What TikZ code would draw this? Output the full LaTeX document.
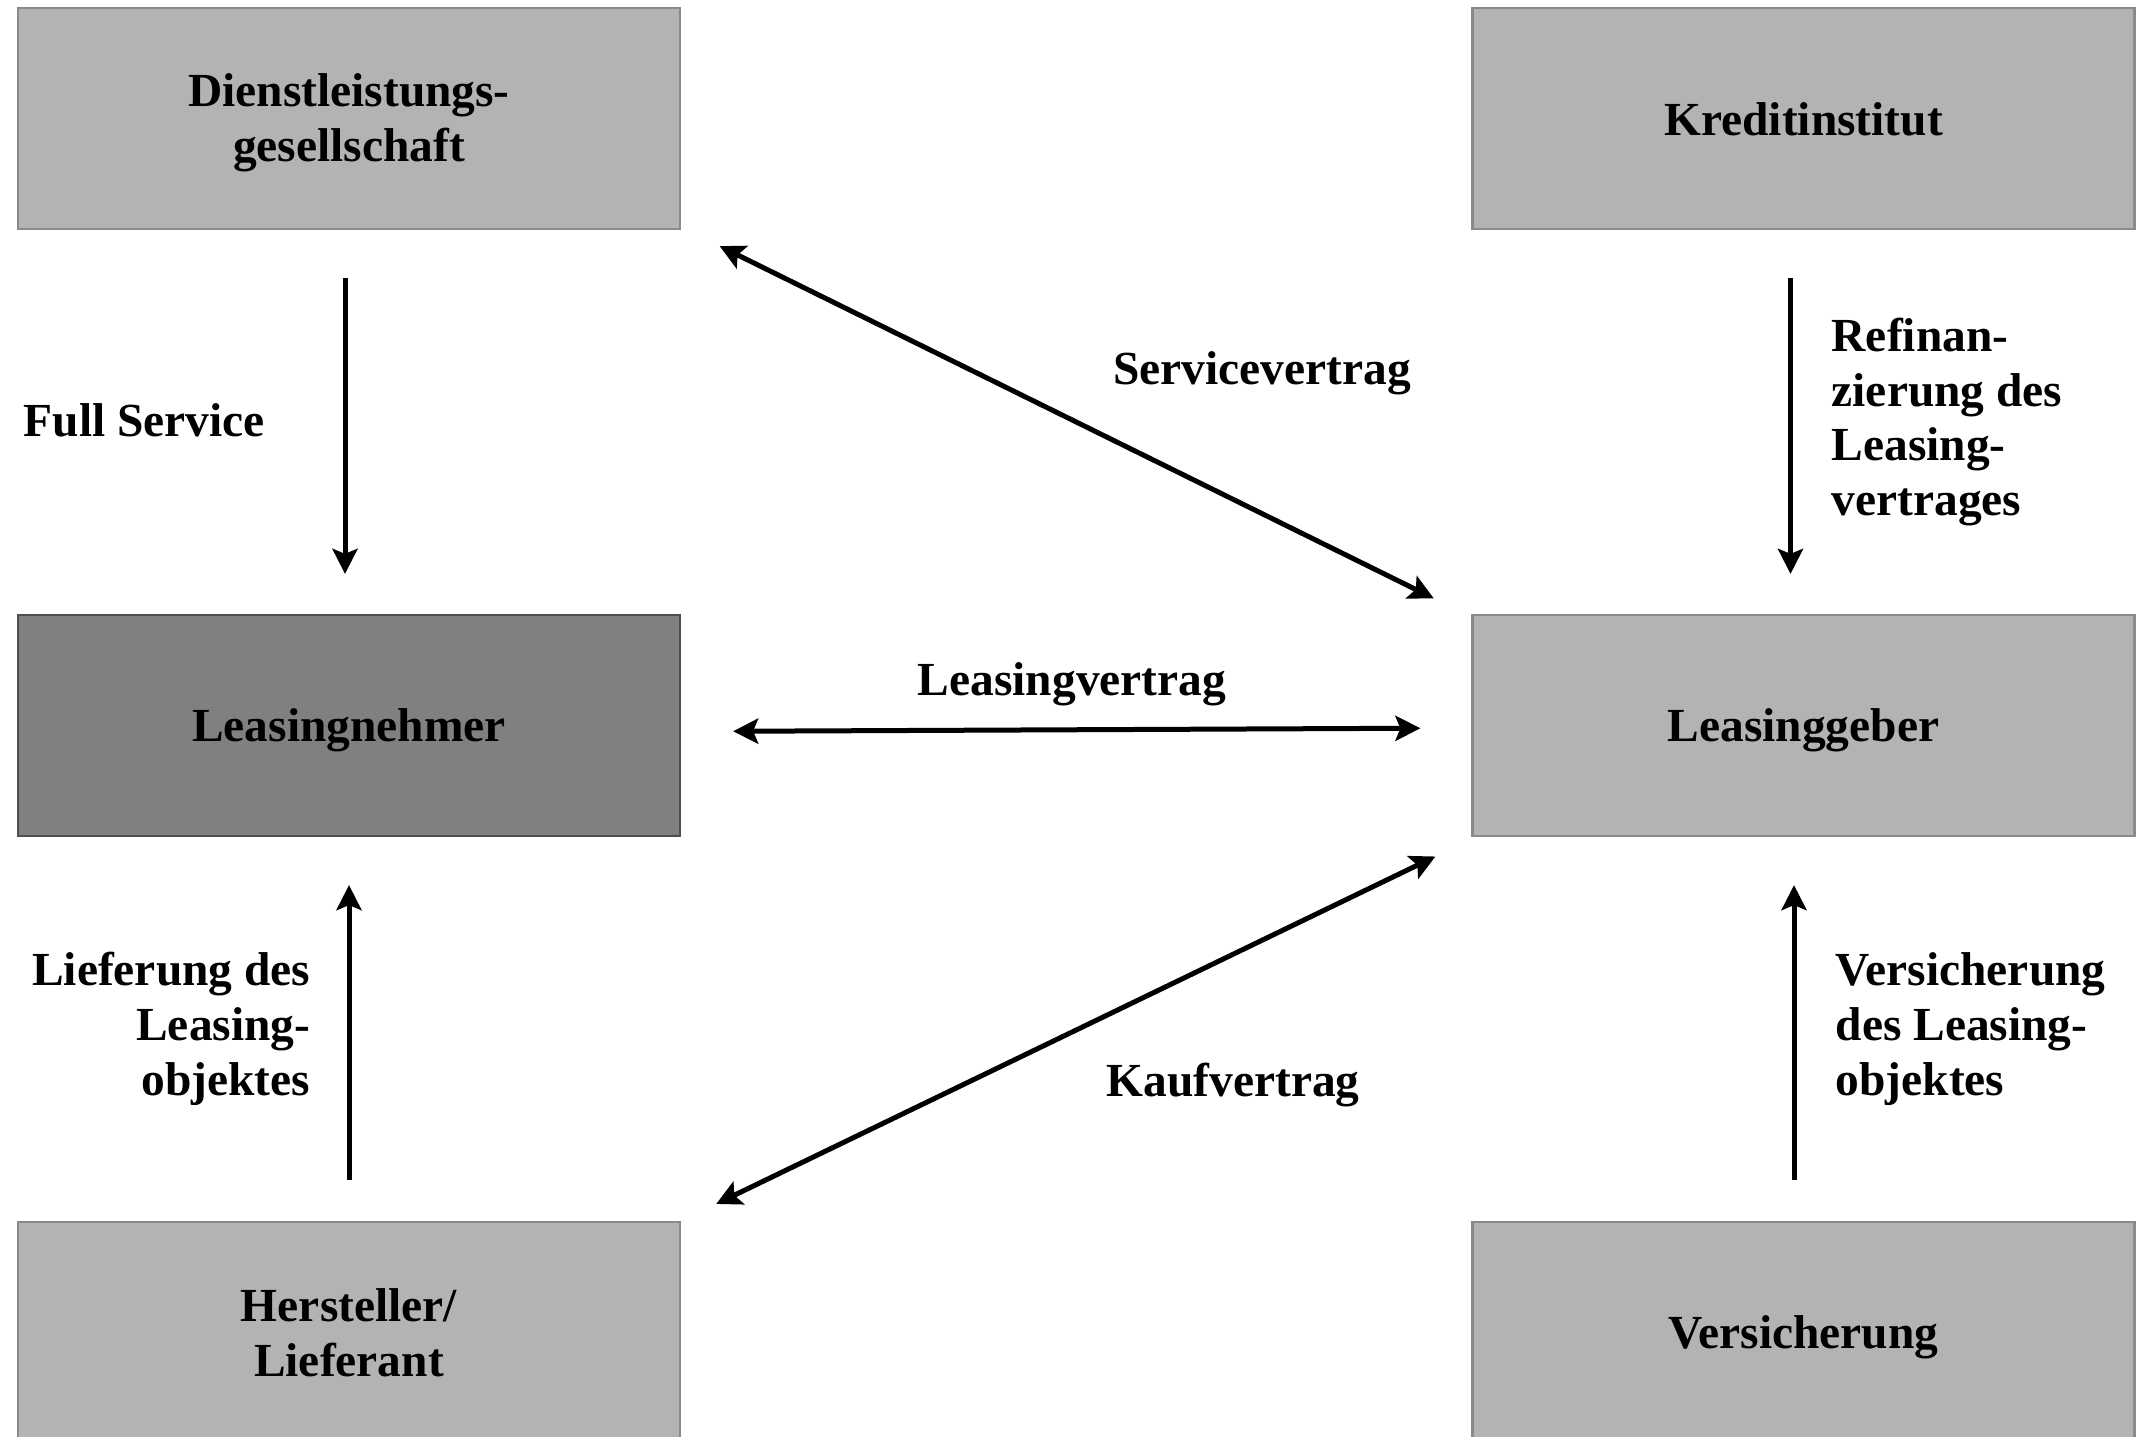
\documentclass[tikz,border=0pt]{standalone}
\usepackage{fontspec}
\setmainfont{Liberation Serif}
\usetikzlibrary{arrows.meta}
\definecolor{boxfill}{RGB}{179,179,179}
\definecolor{boxline}{RGB}{138,138,138}
\definecolor{darkfill}{RGB}{128,128,128}
\definecolor{darkline}{RGB}{78,78,78}
\begin{document}
\begin{tikzpicture}[x=0.1mm,y=-0.1mm,
  txt/.style={font=\fontsize{13.5}{15.6}\selectfont\bfseries},
  ent/.style={draw=boxline, fill=boxfill, line width=0.22mm,
    minimum width=66.2mm, minimum height=22.1mm, inner sep=0pt},
  entdark/.style={ent, draw=darkline, fill=darkfill},
  enttext/.style={txt, inner sep=0pt, align=center, yshift=-0.45mm},
  lbl/.style={txt, inner sep=0pt, yshift=-0.4mm},
  tipa/.style={-{Stealth[length=2.5mm,width=2.5mm,inset=0.5mm]}, line width=0.5mm},
  tipb/.style={{Stealth[length=2.5mm,width=2.5mm,inset=0.5mm]}-{Stealth[length=2.5mm,width=2.5mm,inset=0.5mm]}, line width=0.5mm}]
\clip (0,0) rectangle (2138,1437);
\fill[white] (0,0) rectangle (2138,1437);

% boxes
\node[ent] (dl) at (349,118.5) {};
\node[ent] (kr) at (1803.5,118.5) {};
\node[entdark] (ln) at (349,725.5) {};
\node[ent] (lg) at (1803.5,725.5) {};
\node[ent] (he) at (349,1332.5) {};
\node[ent] (vs) at (1803.5,1332.5) {};
\node[enttext] (dlt) at (dl.center) {Dienstleistungs-\\gesellschaft};
\node[enttext, yshift=0.4mm] (krt) at (kr.center) {Kreditinstitut};
\node[enttext] (lnt) at (ln.center) {Leasingnehmer};
\node[enttext] (lgt) at (lg.center) {Leasinggeber};
\node[enttext, yshift=0.4mm] (het) at (he.center) {Hersteller/\\Lieferant};
\node[enttext] (vst) at (vs.center) {Versicherung};

% vertical connectors
\draw[tipa, shorten <=4.8mm, shorten >=4.0mm] ([xshift=-0.4mm]dl.south) -- ([xshift=-0.4mm]ln.north);
\draw[tipa, shorten <=4.8mm, shorten >=4.0mm] ([xshift=-1.3mm]kr.south) -- ([xshift=-1.3mm]lg.north);
\draw[tipa, shorten <=4.1mm, shorten >=4.8mm] (he.north) -- (ln.south);
\draw[tipa, shorten <=4.1mm, shorten >=4.8mm] ([xshift=-0.95mm]vs.north) -- ([xshift=-0.95mm]lg.south);

% diagonal and horizontal connectors
\draw[tipb, shorten <=4.3mm, shorten >=4.2mm] ([yshift=0.3mm]dl.south east) -- ([yshift=-0.3mm]lg.north west);
\draw[tipb, shorten <=5.2mm, shorten >=5.1mm] ([yshift=-0.6mm]ln.east) -- ([yshift=-0.25mm]lg.west);
\draw[tipb, shorten <=4.0mm, shorten >=3.9mm] ([yshift=-0.2mm]lg.south west) -- (he.north east);

% labels
\node[lbl, anchor=west, yshift=0.4mm] (lfs) at (23,420) {Full Service};
\node[lbl] (lsv) at (1262,369) {Servicevertrag};
\node[lbl, anchor=west, align=left] (lref) at (1831,418) {Refinan-\\zierung des\\Leasing-\\vertrages};
\node[lbl] (llv) at (1072,680) {Leasingvertrag};
\node[lbl, anchor=east, align=right] (llf) at (311,1025) {Lieferung des\\Leasing-\\objektes};
\node[lbl] (lkv) at (1233,1081) {Kaufvertrag};
\node[lbl, anchor=west, align=left] (lvs) at (1835,1025) {Versicherung\\des Leasing-\\objektes};
\end{tikzpicture}
\end{document}
